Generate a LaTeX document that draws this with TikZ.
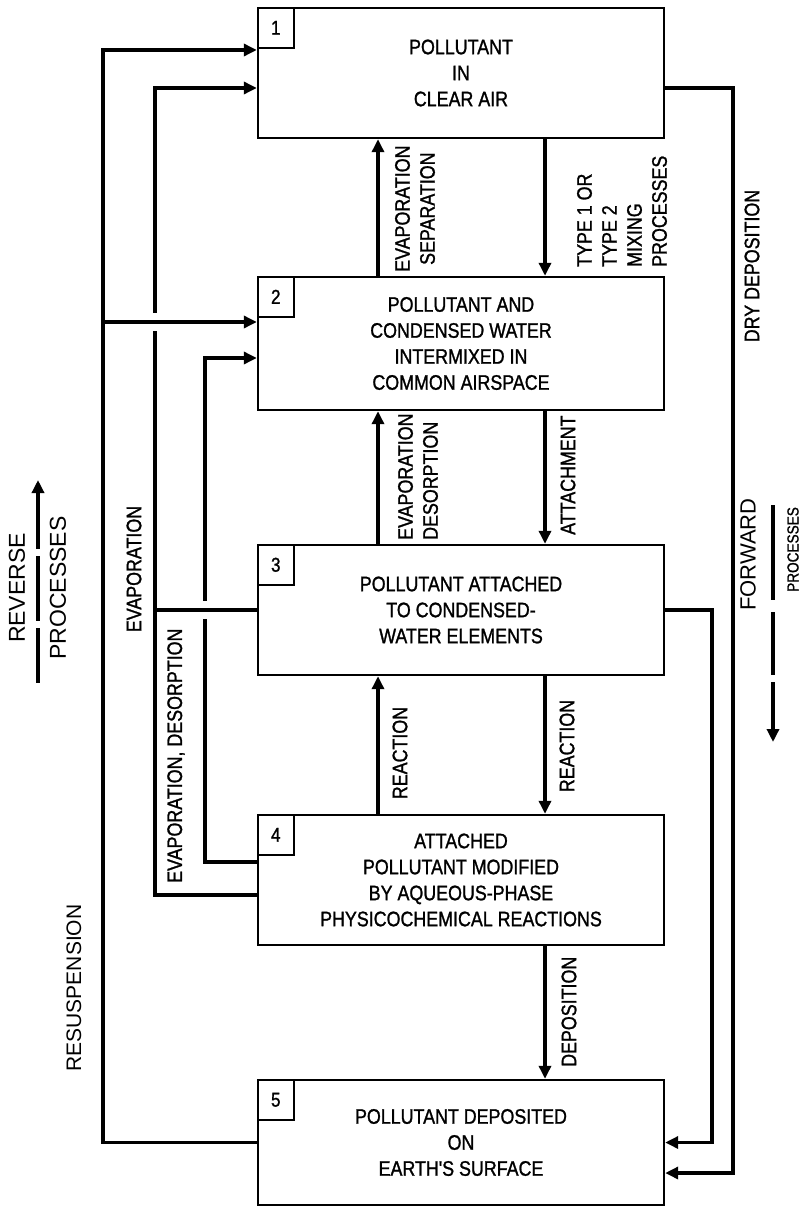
\documentclass[tikz,border=0pt]{standalone}
\usepackage{fontspec}
\setmainfont{Liberation Sans}
\newfontfamily\boxfont[FakeStretch=0.85,FakeBold=1.2]{Liberation Sans}
\usetikzlibrary{arrows.meta}

\begin{document}
\begin{tikzpicture}[
  x=1pt,y=-1pt,
  >={Triangle[length=13pt,width=12pt]},
  box/.style={draw,line width=2.4pt,minimum width=406pt,minimum height=130pt,inner sep=0,align=center,
    font=\boxfont\fontsize{21}{26}\selectfont},
  numbox/.style={draw,line width=2pt,anchor=north west,minimum width=36pt,minimum height=40pt,inner sep=0,
    font=\boxfont\fontsize{20}{24}\selectfont},
  flow/.style={line width=3.8pt},
  bridge/.style={draw=white,line width=9pt},
  lbl/.style={rotate=90,inner sep=0,font=\boxfont\fontsize{21}{25}\selectfont},
  sidelbl/.style={rotate=90,inner sep=0,font=\fontsize{23}{28}\selectfont},
]
  \useasboundingbox (0,0) rectangle (802,1206);
  % the five states
  \node[box] (b1) at (461,73) {POLLUTANT\\IN\\CLEAR AIR};
  \node[box,minimum height=133pt] (b2) at (461,343.5) {POLLUTANT AND\\CONDENSED WATER\\INTERMIXED IN\\COMMON AIRSPACE};
  \node[box] (b3) at (461,610) {POLLUTANT ATTACHED\\TO CONDENSED-\\WATER ELEMENTS};
  \node[box] (b4) at (461,880) {ATTACHED\\POLLUTANT MODIFIED\\BY AQUEOUS-PHASE\\PHYSICOCHEMICAL REACTIONS};
  \node[box,minimum height=125pt] (b5) at (461,1142.5) {POLLUTANT DEPOSITED\\ON\\EARTH'S SURFACE};
  \foreach \i in {1,...,5} \node[numbox] (n\i) at (b\i.north west) {\i};

  % rails for the side connectors
  \coordinate (railA) at (103,0);
  \coordinate (railB) at (155,0);
  \coordinate (railC) at (205,0);
  \coordinate (railD) at (712,0);
  \coordinate (railE) at (733,0);
  \coordinate (upx) at (378,0);
  \coordinate (dnx) at (545,0);

  % between neighbouring boxes
  \foreach \lo/\hi in {b2/b1,b3/b2,b4/b3} \draw[flow,->] (\lo.north -| upx) -- (\hi.south -| upx);
  \foreach \hi/\lo in {b1/b2,b2/b3,b3/b4,b4/b5} \draw[flow,->] (\hi.south -| dnx) -- (\lo.north -| dnx);

  % reverse paths on the left
  \draw[flow,->] (b5.west) -- (b5.west -| railA) |- ([yshift=23pt]b1.west);
  \draw[flow,->] ([yshift=-15pt]b4.west) -- ([yshift=-15pt]b4.west -| railB) |- ([yshift=-15pt]b1.west);
  \draw[flow,->] ([yshift=18pt]b4.west) -- ([yshift=18pt]b4.west -| railC) |- ([yshift=-14.5pt]b2.west);
  \path[bridge] ([yshift=21.5pt]b2.west -| railB) ++(0,-9) -- ++(0,18);
  \path[bridge] (b3.west -| railC) ++(0,-9) -- ++(0,18);
  \draw[flow,->] ([yshift=21.5pt]b2.west -| railA) -- ([yshift=21.5pt]b2.west);
  \draw[flow] (b3.west) -- (b3.west -| railB);

  % forward paths on the right
  \draw[flow,->] ([yshift=-15pt]b1.east) -- ([yshift=-15pt]b1.east -| railE) |- ([yshift=-30.5pt]b5.east);
  \draw[flow,->] (b3.east) -- (b3.east -| railD) |- (b5.east);

  % process labels
  \node[lbl,anchor=west,align=center] (lEvSep) at (415,272) {EVAPORATION\\SEPARATION};
  \node[lbl,anchor=west,align=left] (lMix) at (622,267) {TYPE 1 OR\\TYPE 2\\MIXING\\PROCESSES};
  \node[lbl] (lDry) at (752,266) {DRY DEPOSITION};
  \node[lbl,anchor=west,align=left] (lEvDes) at (418,540) {EVAPORATION\\DESORPTION};
  \node[lbl,anchor=west] (lAtt) at (568,535) {ATTACHMENT};
  \node[lbl] (lReacUp) at (400,753) {REACTION};
  \node[lbl] (lReacDn) at (567,746) {REACTION};
  \node[lbl,anchor=west] (lDep) at (569,1067) {DEPOSITION};
  \node[lbl] (lEvap) at (134,569) {EVAPORATION};
  \node[lbl,anchor=west] (lEvDes2) at (176,883) {EVAPORATION, DESORPTION};
  \node[sidelbl,font=\fontsize{21}{25}\selectfont] (lResus) at (74,988) {RESUSPENSION};

  % direction keys
  \coordinate (revT) at (38,480);
  \coordinate (revB) at (38,683);
  \draw[flow,<-,dash pattern=on 57pt off 7pt on 65pt off 7pt on 80pt] (revT) -- (revB);
  \node[sidelbl] (lRev) at (17,588) {REVERSE};
  \node[sidelbl] (lRevP) at (58,588) {PROCESSES};
  \coordinate (fwdT) at (773,505);
  \coordinate (fwdB) at (773,742);
  \draw[flow,->,dash pattern=on 95pt off 12pt on 63pt off 7pt on 80pt] (fwdT) -- (fwdB);
  \node[sidelbl,anchor=west,font=\fontsize{22}{26}\selectfont] (lFwd) at (748,611) {FORWARD};
  \node[lbl,anchor=west,font=\boxfont\fontsize{16}{18}\selectfont] (lFwdP) at (793,592) {PROCESSES};
\end{tikzpicture}
\end{document}
